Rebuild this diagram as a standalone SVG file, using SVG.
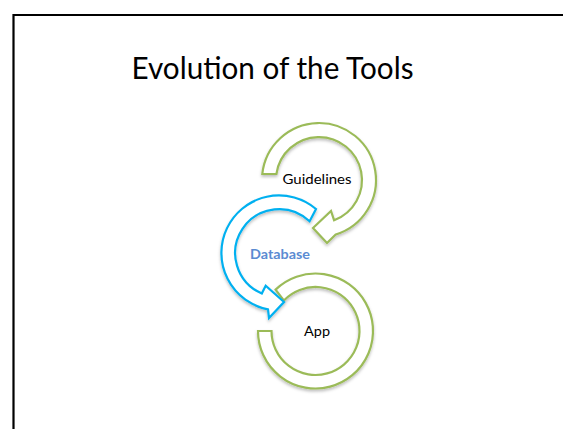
<svg xmlns="http://www.w3.org/2000/svg" width="563" height="429" viewBox="0 0 563 429">
<defs>
<filter id="sh" x="-20%" y="-20%" width="140%" height="140%">
<feDropShadow dx="0" dy="2" stdDeviation="1.5" flood-color="#000" flood-opacity="0.25"/>
</filter>
<style>
.green{fill:#fff;stroke:#9BBB59;stroke-width:2.2;stroke-linejoin:miter;filter:url(#sh)}
.blue{fill:#fff;stroke:#00B0F0;stroke-width:2.2;stroke-linejoin:miter;filter:url(#sh)}
.lbl{font-family:"Lato","Open Sans","Liberation Sans",sans-serif;font-size:14px;fill:#000;text-anchor:middle}
</style>
</defs>
<rect x="0" y="0" width="563" height="429" fill="#fff"/>
<path d="M563 15 H13.5 V429" fill="none" stroke="#000" stroke-width="2.2"/>
<text x="272.5" y="79" font-family="Lato,'Open Sans','Liberation Sans',sans-serif" font-size="31" fill="#000" text-anchor="middle" textLength="282" lengthAdjust="spacingAndGlyphs">Evolution of the Tools</text>
<g id="app">
<path class="green" d="M275.6 289.6 A57.5 57.5 0 1 1 258 331 L271.5 331 A44 44 0 1 0 283.85 300.4 Z"/>
<text class="lbl" x="317" y="335.5" textLength="26" lengthAdjust="spacingAndGlyphs">App</text>
</g>
<g id="database">
<path class="blue" d="M316 209 A57.5 57.5 0 1 0 268 309.4 L269 318 L284 302 L265.7 285.7 L261.8 293.5 A44 44 0 1 1 309.6 221.3 Z"/>
<text x="280" y="259" font-family="Lato,'Open Sans','Liberation Sans',sans-serif" font-size="13" font-weight="bold" fill="#5B8BD2" text-anchor="middle" textLength="60" lengthAdjust="spacingAndGlyphs">Database</text>
</g>
<g id="guidelines">
<path class="green" d="M262.3 174 A57 57 0 1 1 335.7 234.5 L327 243 L313 228 L331 211 L334.1 220.3 A43 43 0 1 0 276.4 174 Z"/>
<text class="lbl" x="317" y="184.3" textLength="69" lengthAdjust="spacingAndGlyphs">Guidelines</text>
</g>
<g id="connectors"></g>
</svg>
